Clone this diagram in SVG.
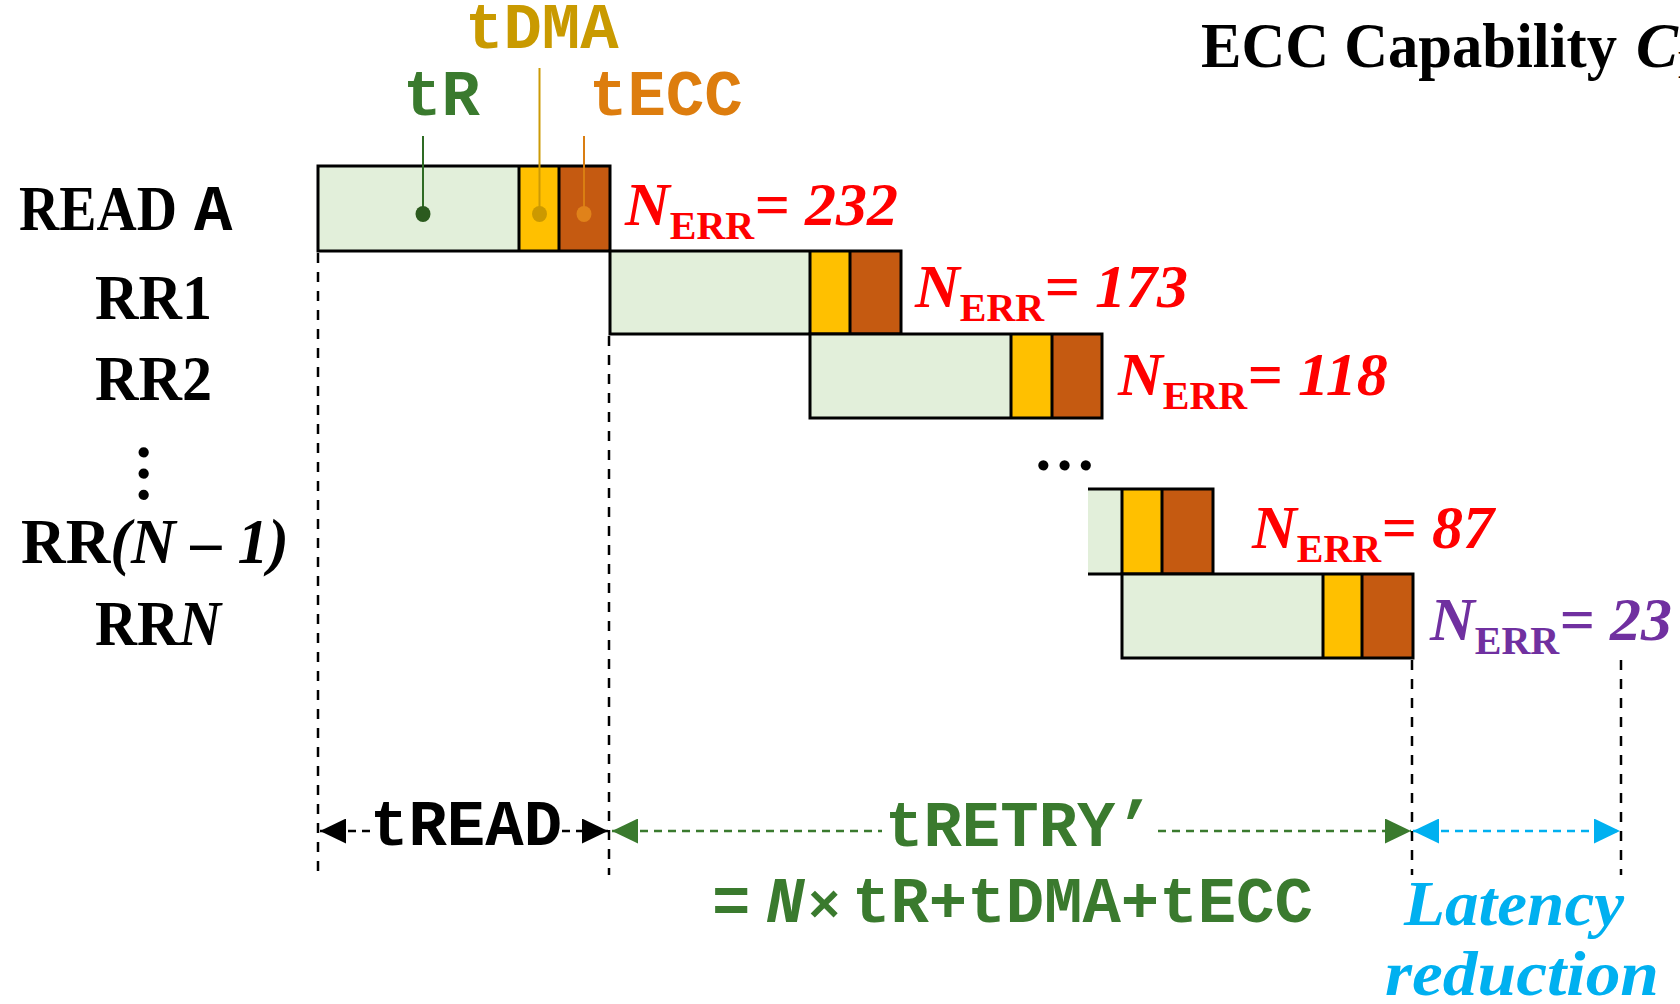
<svg xmlns="http://www.w3.org/2000/svg" width="1680" height="1004" viewBox="0 0 1680 1004">
<style>
.lbl{font-family:"Liberation Serif","Times New Roman",serif;font-weight:bold;font-size:63px;fill:#000}
.cyan{font-family:"Liberation Serif","Times New Roman",serif;font-weight:bold;font-style:italic;font-size:64px;fill:#00B0F0}
.mono{font-family:"Liberation Mono","Courier New",monospace;font-weight:bold;font-size:64px}
.nerr{font-family:"Liberation Serif","Times New Roman",serif;font-weight:bold;font-style:italic;font-size:62px}
.red{fill:#FF0000}
.purple{fill:#7030A0}
.sub{font-style:normal;font-size:40px}
.tr{fill:#E2EFDA}
.dma{fill:#FFC000}
.ecc{fill:#C55A11}
.edge{stroke:#000;stroke-width:3;fill:none}
.vdash{stroke:#000;stroke-width:2.5;stroke-dasharray:10 9;fill:none}
.dim{stroke-width:2.5;stroke-dasharray:8 6;fill:none}
</style>
<defs>
<marker id="ah-k" markerUnits="userSpaceOnUse" markerWidth="26" markerHeight="25" viewBox="0 0 26 25" refX="26" refY="12.5" orient="auto-start-reverse"><path d="M0 0L26 12.5L0 25z" fill="#000"/></marker>
<marker id="ah-g" markerUnits="userSpaceOnUse" markerWidth="26" markerHeight="25" viewBox="0 0 26 25" refX="26" refY="12.5" orient="auto-start-reverse"><path d="M0 0L26 12.5L0 25z" fill="#3A7A2E"/></marker>
<marker id="ah-c" markerUnits="userSpaceOnUse" markerWidth="26" markerHeight="25" viewBox="0 0 26 25" refX="26" refY="12.5" orient="auto-start-reverse"><path d="M0 0L26 12.5L0 25z" fill="#00B0F0"/></marker>
</defs>
<rect width="1680" height="1004" fill="#fff"/>

<!-- title -->
<g id="title">
<text x="1201" y="67" class="lbl" font-size="60" textLength="416" lengthAdjust="spacingAndGlyphs">ECC Capability</text>
<text x="1636" y="67" class="lbl" font-size="60" font-style="italic">C<tspan font-size="40" font-style="normal" dy="11">ECC</tspan></text>
</g>

<!-- row labels -->
<g id="row-labels">
<text x="19" y="230" class="lbl" textLength="158" lengthAdjust="spacingAndGlyphs">READ</text>
<text x="194" y="230" class="mono" font-size="72" fill="#000">A</text>
<text x="95" y="319" class="lbl" textLength="117" lengthAdjust="spacingAndGlyphs">RR1</text>
<text x="95" y="400" class="lbl" textLength="117" lengthAdjust="spacingAndGlyphs">RR2</text>
<text transform="translate(139,442) rotate(90)" class="lbl" font-size="58">…</text>
<text x="21" y="563" class="lbl" textLength="268" lengthAdjust="spacingAndGlyphs">RR<tspan font-style="italic">(N – 1)</tspan></text>
<text x="95" y="645" class="lbl" textLength="126" lengthAdjust="spacingAndGlyphs">RR<tspan font-style="italic">N</tspan></text>
</g>

<!-- component labels -->
<g id="component-labels">
<text x="403" y="115" class="mono" fill="#3A7A2E">tR</text>
<text x="465" y="48" class="mono" fill="#C99A00">tDMA</text>
<text x="589" y="115" class="mono" fill="#DD7D0E">tECC</text>
</g>

<!-- boxes -->
<g id="read-a">
<rect class="tr" x="318" y="166" width="201" height="85"/>
<rect class="dma" x="519" y="166" width="40" height="85"/>
<rect class="ecc" x="559" y="166" width="51" height="85"/>
<rect class="edge" x="318" y="166" width="292" height="85"/>
<path class="edge" d="M519 166V251M559 166V251"/>
</g>
<g id="rr1">
<rect class="tr" x="610" y="251" width="200" height="83"/>
<rect class="dma" x="810" y="251" width="40" height="83"/>
<rect class="ecc" x="850" y="251" width="51" height="83"/>
<rect class="edge" x="610" y="251" width="291" height="83"/>
<path class="edge" d="M810 251V334M850 251V334"/>
</g>
<g id="rr2">
<rect class="tr" x="810" y="334" width="201" height="84"/>
<rect class="dma" x="1011" y="334" width="41" height="84"/>
<rect class="ecc" x="1052" y="334" width="50" height="84"/>
<rect class="edge" x="810" y="334" width="292" height="84"/>
<path class="edge" d="M1011 334V418M1052 334V418"/>
</g>
<g id="ellipsis">
<text x="1033" y="470" class="lbl" font-size="58">…</text>
</g>
<g id="rr-n-1">
<rect class="tr" x="1088" y="489" width="34" height="85"/>
<rect class="dma" x="1122" y="489" width="40" height="85"/>
<rect class="ecc" x="1162" y="489" width="51" height="85"/>
<path class="edge" d="M1088 489H1213V574H1088M1122 489V574M1162 489V574"/>
</g>
<g id="rr-n">
<rect class="tr" x="1122" y="574" width="201" height="84"/>
<rect class="dma" x="1323" y="574" width="39" height="84"/>
<rect class="ecc" x="1362" y="574" width="51" height="84"/>
<rect class="edge" x="1122" y="574" width="291" height="84"/>
<path class="edge" d="M1323 574V658M1362 574V658"/>
</g>

<!-- error counts -->
<g id="nerr-labels">
<text x="625" y="225" class="nerr red">N<tspan class="sub" dy="14">ERR</tspan><tspan dy="-14">= 232</tspan></text>
<text x="915" y="307" class="nerr red">N<tspan class="sub" dy="14">ERR</tspan><tspan dy="-14">= 173</tspan></text>
<text x="1118" y="395" class="nerr red">N<tspan class="sub" dy="14">ERR</tspan><tspan dy="-14">= 118</tspan></text>
<text x="1252" y="548" class="nerr red">N<tspan class="sub" dy="14">ERR</tspan><tspan dy="-14">= 87</tspan></text>
<text x="1430" y="640" class="nerr purple">N<tspan class="sub" dy="14">ERR</tspan><tspan dy="-14">= 23</tspan></text>
</g>

<!-- connectors -->
<g id="connectors">
<line x1="423" y1="136" x2="423" y2="214" stroke="#2E6B24" stroke-width="2"/>
<ellipse cx="423" cy="214" rx="7.5" ry="8" fill="#2B5A1E"/>
<line x1="539.5" y1="68" x2="539.5" y2="214" stroke="#CC9A06" stroke-width="2"/>
<ellipse cx="539.5" cy="214" rx="7.5" ry="8" fill="#CC9900"/>
<line x1="584" y1="136" x2="584" y2="214" stroke="#DA7E12" stroke-width="2"/>
<ellipse cx="584" cy="214" rx="7.5" ry="8" fill="#E0821A"/>

<line class="vdash" x1="318" y1="253" x2="318" y2="880"/>
<line class="vdash" x1="609" y1="336" x2="609" y2="875"/>
<line class="vdash" x1="1412" y1="660" x2="1412" y2="875"/>
<line class="vdash" x1="1621" y1="660" x2="1621" y2="875"/>

<line class="dim" x1="320" y1="831" x2="372" y2="831" stroke="#000" marker-start="url(#ah-k)"/>
<line class="dim" x1="562" y1="831" x2="608" y2="831" stroke="#000" marker-end="url(#ah-k)"/>
<line class="dim" x1="612" y1="831" x2="882" y2="831" stroke="#3A7A2E" marker-start="url(#ah-g)"/>
<line class="dim" x1="1158" y1="831" x2="1411" y2="831" stroke="#3A7A2E" marker-end="url(#ah-g)"/>
<line class="dim" x1="1413" y1="831" x2="1620" y2="831" stroke="#00B0F0" marker-start="url(#ah-c)" marker-end="url(#ah-c)"/>
</g>

<!-- dimension labels -->
<g id="dimension-labels">
<text x="370" y="845" class="mono" fill="#000">tREAD</text>
<text x="885" y="846" class="mono" fill="#3A7A2E">tRETRY’</text>
<text y="922" class="mono" fill="#3A7A2E"><tspan x="712">=</tspan><tspan x="766" font-style="italic">N</tspan><tspan x="808" font-style="italic" font-size="54">×</tspan><tspan x="852">tR+tDMA+tECC</tspan></text>
<text x="1404" y="925" class="cyan" textLength="220" lengthAdjust="spacingAndGlyphs">Latency</text>
<text x="1385" y="995" class="cyan" textLength="274" lengthAdjust="spacingAndGlyphs">reduction</text>
</g>
</svg>
